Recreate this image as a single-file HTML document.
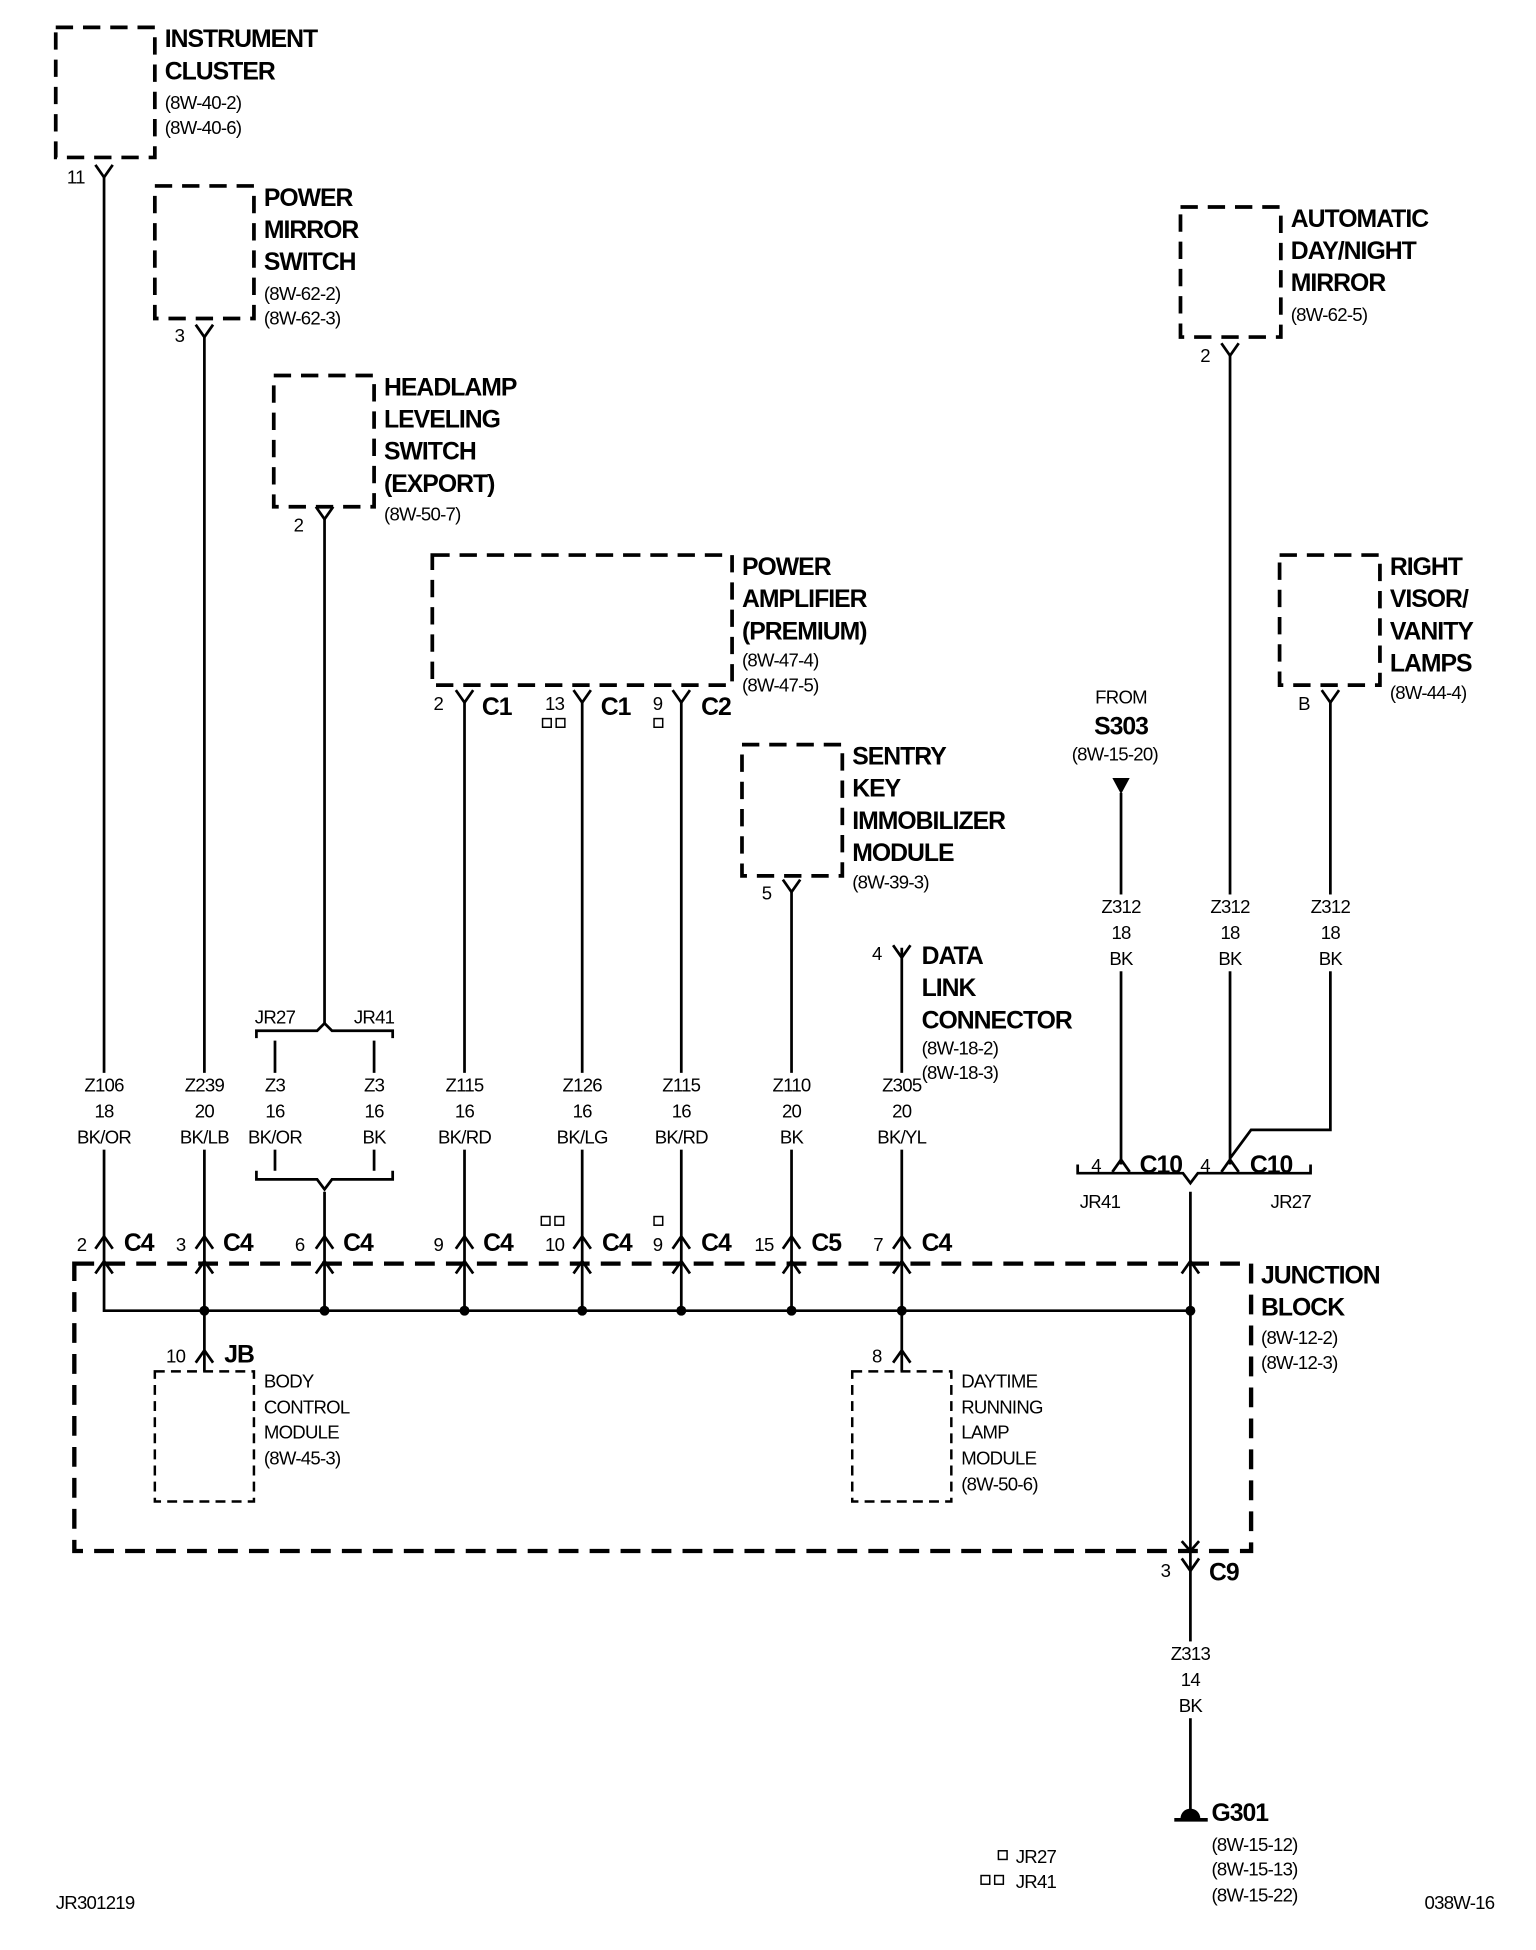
<!DOCTYPE html>
<html><head><meta charset="utf-8"><style>
html,body{margin:0;padding:0;background:#fff;}
svg{display:block;}
text{font-family:"Liberation Sans",sans-serif;fill:#000;}
.b{font-weight:bold;font-size:20px;letter-spacing:-0.8px;}
.s{font-size:15px;letter-spacing:-0.6px;}
.m{font-size:15px;letter-spacing:-0.6px;text-anchor:middle;}
.c{font-weight:bold;font-size:20px;letter-spacing:-0.8px;}
</style></head><body>
<svg width="1536" height="1950" viewBox="0 0 1240 1574" xmlns="http://www.w3.org/2000/svg">
<g fill="none" stroke="#000" stroke-width="3" stroke-dasharray="14 8">
<rect x="45" y="22" width="80" height="105"/>
<rect x="125" y="150" width="80" height="107"/>
<rect x="221" y="303" width="81" height="106"/>
<rect x="349" y="448" width="242" height="105"/>
<rect x="599" y="601" width="81" height="106"/>
<rect x="953" y="167" width="81" height="105"/>
<rect x="1033" y="448" width="81" height="105"/>
<rect x="60" y="1020" width="950" height="232" stroke-width="3.5" stroke-dasharray="16 9"/>
</g>
<g fill="none" stroke="#000" stroke-width="2" stroke-dasharray="8 5">
<rect x="125" y="1107" width="80" height="105"/>
<rect x="688" y="1107" width="80" height="105"/>
</g>
<g fill="none" stroke="#000" stroke-width="2.2">
<path d="M84 143V1058H961"/>
<path d="M165 272V1107"/>
<path d="M262 419V826"/>
<path d="M222 840V945 M302 840V945 M262 962V1058"/>
<path d="M375 567V1058 M470 567V1058 M550 567V1058"/>
<path d="M639 720V1058"/>
<path d="M728 765V1107"/>
<path d="M905 640V940 M993 287V940 M1074 567V912L1010 912L993 935"/>
<path d="M961 962V1462"/>
<path d="M207 838V832H256L262 826L268 832H317V838"/>
<path d="M207 945V952H256L262 960L268 952H317V945"/>
<path d="M870 940V947H955L961 955L967 947H1058V940"/>
<path d="M77 133L84 143L91 133 M158 262L165 272L172 262 M255 409L262 419L269 409 M368 557L375 567L382 557 M463 557L470 567L477 557 M543 557L550 567L557 557 M632 710L639 720L646 710 M721 763L728 773L735 763 M986 277L993 287L1000 277 M1067 557L1074 567L1081 557 M954 1258L961 1268L968 1258"/>
<path d="M77 1008L84 998L91 1008 M158 1008L165 998L172 1008 M255 1008L262 998L269 1008 M368 1008L375 998L382 1008 M463 1008L470 998L477 1008 M543 1008L550 998L557 1008 M632 1008L639 998L646 1008 M721 1008L728 998L735 1008"/>
<path d="M77 1028L84 1018L91 1028 M158 1028L165 1018L172 1028 M255 1028L262 1018L269 1028 M368 1028L375 1018L382 1028 M463 1028L470 1018L477 1028 M543 1028L550 1018L557 1028 M632 1028L639 1018L646 1028 M721 1028L728 1018L735 1028 M954 1028L961 1018L968 1028"/>
<path d="M158 1100L165 1090L172 1100 M721 1100L728 1090L735 1100 M898 946L905 936L912 946 M986 946L993 936L1000 946 M954 1244L961 1252L968 1244"/>
<path d="M948 1469H975" stroke-width="3"/>
</g>
<g fill="#fff">
<rect x="54" y="866" width="60" height="62"/><rect x="135" y="866" width="60" height="62"/>
<rect x="196" y="866" width="52" height="62"/><rect x="280" y="866" width="44" height="62"/>
<rect x="345" y="866" width="60" height="62"/><rect x="440" y="866" width="60" height="62"/>
<rect x="520" y="866" width="60" height="62"/><rect x="609" y="866" width="60" height="62"/>
<rect x="698" y="866" width="60" height="62"/>
<rect x="880" y="722" width="50" height="62"/><rect x="968" y="722" width="50" height="62"/><rect x="1049" y="722" width="50" height="62"/>
<rect x="936" y="1325" width="50" height="62"/>
</g>
<g fill="#000">
<circle cx="165" cy="1058" r="4"/><circle cx="262" cy="1058" r="4"/><circle cx="375" cy="1058" r="4"/><circle cx="470" cy="1058" r="4"/><circle cx="550" cy="1058" r="4"/><circle cx="639" cy="1058" r="4"/><circle cx="728" cy="1058" r="4"/><circle cx="961" cy="1058" r="4"/>
<path d="M898 628H912L905 641Z"/>
<path d="M953 1468A8 8 0 0 1 969 1468Z"/>
</g>
<g fill="none" stroke="#000" stroke-width="1.2">
<rect x="438" y="580" width="7" height="7"/><rect x="449" y="580" width="7" height="7"/>
<rect x="528" y="580" width="7" height="7"/>
<rect x="437" y="982" width="7" height="7"/><rect x="448" y="982" width="7" height="7"/>
<rect x="528" y="982" width="7" height="7"/>
<rect x="806" y="1494" width="7" height="7"/>
<rect x="792" y="1514" width="7" height="7"/><rect x="803" y="1514" width="7" height="7"/>
</g>
<text class="b" x="133" y="38">INSTRUMENT</text><text class="b" x="133" y="64">CLUSTER</text>
<text class="s" x="133" y="88">(8W-40-2)</text><text class="s" x="133" y="108">(8W-40-6)</text>
<text class="b" x="213" y="166">POWER</text><text class="b" x="213" y="192">MIRROR</text><text class="b" x="213" y="218">SWITCH</text>
<text class="s" x="213" y="242">(8W-62-2)</text><text class="s" x="213" y="262">(8W-62-3)</text>
<text class="b" x="310" y="319">HEADLAMP</text><text class="b" x="310" y="345">LEVELING</text><text class="b" x="310" y="371">SWITCH</text><text class="b" x="310" y="397">(EXPORT)</text>
<text class="s" x="310" y="420">(8W-50-7)</text>
<text class="b" x="599" y="464">POWER</text><text class="b" x="599" y="490">AMPLIFIER</text><text class="b" x="599" y="516">(PREMIUM)</text>
<text class="s" x="599" y="538">(8W-47-4)</text><text class="s" x="599" y="558">(8W-47-5)</text>
<text class="b" x="688" y="617">SENTRY</text><text class="b" x="688" y="643">KEY</text><text class="b" x="688" y="669">IMMOBILIZER</text><text class="b" x="688" y="695">MODULE</text>
<text class="s" x="688" y="717">(8W-39-3)</text>
<text class="b" x="744" y="778">DATA</text><text class="b" x="744" y="804">LINK</text><text class="b" x="744" y="830">CONNECTOR</text>
<text class="s" x="744" y="851">(8W-18-2)</text><text class="s" x="744" y="871">(8W-18-3)</text>
<text class="b" x="1042" y="183">AUTOMATIC</text><text class="b" x="1042" y="209">DAY/NIGHT</text><text class="b" x="1042" y="235">MIRROR</text>
<text class="s" x="1042" y="259">(8W-62-5)</text>
<text class="b" x="1122" y="464">RIGHT</text><text class="b" x="1122" y="490">VISOR/</text><text class="b" x="1122" y="516">VANITY</text><text class="b" x="1122" y="542">LAMPS</text>
<text class="s" x="1122" y="564">(8W-44-4)</text>
<text class="m" x="905" y="568">FROM</text><text class="b" x="905" y="593" text-anchor="middle">S303</text><text class="m" x="900" y="614">(8W-15-20)</text>
<text class="b" x="1018" y="1036">JUNCTION</text><text class="b" x="1018" y="1062">BLOCK</text>
<text class="s" x="1018" y="1085">(8W-12-2)</text><text class="s" x="1018" y="1105">(8W-12-3)</text>
<text class="s" x="213" y="1120">BODY</text><text class="s" x="213" y="1141">CONTROL</text><text class="s" x="213" y="1161">MODULE</text><text class="s" x="213" y="1182">(8W-45-3)</text>
<text class="s" x="776" y="1120">DAYTIME</text><text class="s" x="776" y="1141">RUNNING</text><text class="s" x="776" y="1161">LAMP</text><text class="s" x="776" y="1182">MODULE</text><text class="s" x="776" y="1203">(8W-50-6)</text>
<text class="b" x="978" y="1470">G301</text>
<text class="s" x="978" y="1494">(8W-15-12)</text><text class="s" x="978" y="1514">(8W-15-13)</text><text class="s" x="978" y="1535">(8W-15-22)</text>
<text class="s" x="45" y="1541">JR301219</text><text class="s" x="1150" y="1541">038W-16</text>
<text class="s" x="820" y="1504">JR27</text><text class="s" x="820" y="1524">JR41</text>
<text class="s" x="54" y="148">11</text><text class="s" x="141" y="276">3</text><text class="s" x="237" y="429">2</text>
<text class="s" x="350" y="573">2</text><text class="c" x="389" y="577">C1</text>
<text class="s" x="440" y="573">13</text><text class="c" x="485" y="577">C1</text>
<text class="s" x="527" y="573">9</text><text class="c" x="566" y="577">C2</text>
<text class="s" x="615" y="726">5</text><text class="s" x="704" y="775">4</text>
<text class="s" x="969" y="292">2</text><text class="s" x="1048" y="573">B</text>
<text class="m" x="84" y="881">Z106</text><text class="m" x="84" y="902">18</text><text class="m" x="84" y="923">BK/OR</text>
<text class="m" x="165" y="881">Z239</text><text class="m" x="165" y="902">20</text><text class="m" x="165" y="923">BK/LB</text>
<text class="m" x="222" y="881">Z3</text><text class="m" x="222" y="902">16</text><text class="m" x="222" y="923">BK/OR</text>
<text class="m" x="302" y="881">Z3</text><text class="m" x="302" y="902">16</text><text class="m" x="302" y="923">BK</text>
<text class="m" x="375" y="881">Z115</text><text class="m" x="375" y="902">16</text><text class="m" x="375" y="923">BK/RD</text>
<text class="m" x="470" y="881">Z126</text><text class="m" x="470" y="902">16</text><text class="m" x="470" y="923">BK/LG</text>
<text class="m" x="550" y="881">Z115</text><text class="m" x="550" y="902">16</text><text class="m" x="550" y="923">BK/RD</text>
<text class="m" x="639" y="881">Z110</text><text class="m" x="639" y="902">20</text><text class="m" x="639" y="923">BK</text>
<text class="m" x="728" y="881">Z305</text><text class="m" x="728" y="902">20</text><text class="m" x="728" y="923">BK/YL</text>
<text class="m" x="905" y="737">Z312</text><text class="m" x="905" y="758">18</text><text class="m" x="905" y="779">BK</text>
<text class="m" x="993" y="737">Z312</text><text class="m" x="993" y="758">18</text><text class="m" x="993" y="779">BK</text>
<text class="m" x="1074" y="737">Z312</text><text class="m" x="1074" y="758">18</text><text class="m" x="1074" y="779">BK</text>
<text class="m" x="961" y="1340">Z313</text><text class="m" x="961" y="1361">14</text><text class="m" x="961" y="1382">BK</text>
<text class="m" x="222" y="826">JR27</text><text class="m" x="302" y="826">JR41</text>
<text class="m" x="888" y="975">JR41</text><text class="m" x="1042" y="975">JR27</text>
<text class="s" x="62" y="1010">2</text><text class="c" x="100" y="1010">C4</text>
<text class="s" x="142" y="1010">3</text><text class="c" x="180" y="1010">C4</text>
<text class="s" x="238" y="1010">6</text><text class="c" x="277" y="1010">C4</text>
<text class="s" x="350" y="1010">9</text><text class="c" x="390" y="1010">C4</text>
<text class="s" x="440" y="1010">10</text><text class="c" x="486" y="1010">C4</text>
<text class="s" x="527" y="1010">9</text><text class="c" x="566" y="1010">C4</text>
<text class="s" x="609" y="1010">15</text><text class="c" x="655" y="1010">C5</text>
<text class="s" x="705" y="1010">7</text><text class="c" x="744" y="1010">C4</text>
<text class="s" x="881" y="946">4</text><text class="c" x="920" y="947">C10</text>
<text class="s" x="969" y="946">4</text><text class="c" x="1009" y="947">C10</text>
<text class="s" x="134" y="1100">10</text><text class="c" x="181" y="1100">JB</text>
<text class="s" x="704" y="1100">8</text>
<text class="s" x="937" y="1273">3</text><text class="c" x="976" y="1276">C9</text>
</svg>
</body></html>
